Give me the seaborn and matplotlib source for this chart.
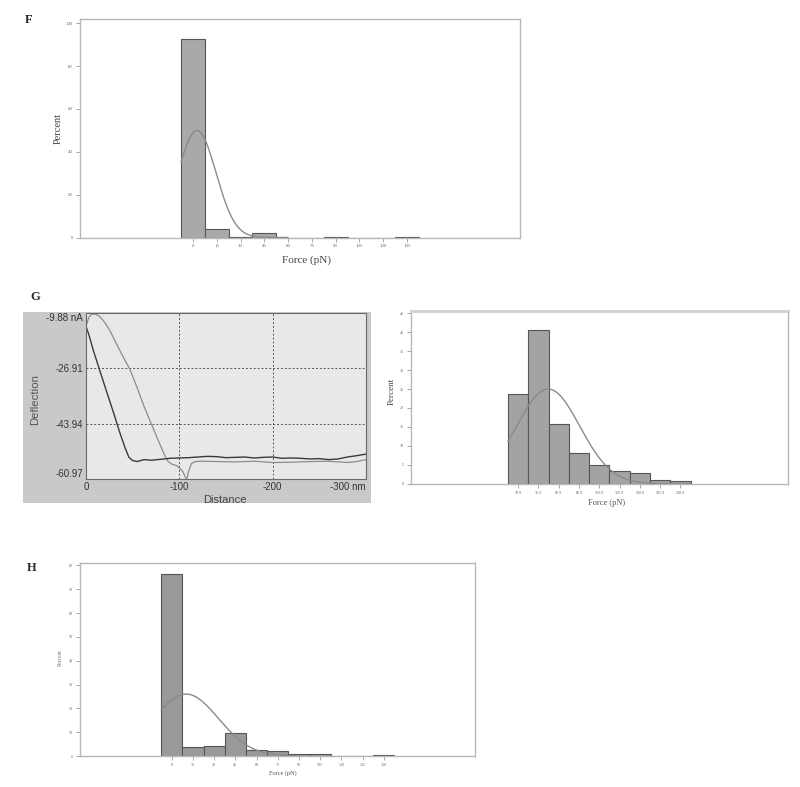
import numpy as np
import pandas as pd
import matplotlib
matplotlib.use("Agg")
import matplotlib.pyplot as plt
import seaborn as sns
from matplotlib.patches import Rectangle

# ---------------- data ----------------
# Panel F histogram
f_bins = ["0", "15", "30", "45", "60", "75", "90", "105", "120", "135"]
f_pct = [92.8, 3.9, 0.3, 1.9, 0.0, 0.0, 0.3, 0.0, 0.0, 0.3]
f_fit_mean, f_fit_sd, f_fit_peak = 2.5, 12.0, 50.0
f_yticks = [0, 20, 40, 60, 80, 100]

# Panel G (left) force curve, distance in nm, deflection in nA
g_yticks = [-9.88, -26.91, -43.94, -60.97]
g_ytick_labels = ["-9.88 nA", "-26.91", "-43.94", "-60.97"]
g_xticks = [0, -100, -200, -300]
g_xtick_labels = ["0", "-100", "-200", "-300 nm"]
dark_x = [0, -3, -8, -15, -22, -30, -36, -42, -46, -50, -55, -62, -70, -80, -90, -100,
          -110, -120, -130, -140, -150, -160, -170, -180, -190, -200, -210, -220, -230,
          -240, -250, -260, -270, -280, -290, -300]
dark_y = [-14.0, -16.5, -21.5, -27.8, -34.0, -41.0, -46.5, -51.5, -54.3, -55.3, -55.6, -55.0,
          -55.2, -54.9, -54.6, -54.5, -54.4, -54.2, -54.0, -54.1, -54.4, -54.3, -54.2, -54.5,
          -54.3, -54.2, -54.6, -54.5, -54.6, -54.8, -54.7, -55.0, -54.8, -54.2, -53.8, -53.3]
light_x = [0, -3, -6, -10, -14, -18, -22, -26, -32, -40, -47, -55, -62, -70, -78, -84,
           -88, -92, -97, -101, -104, -106, -108, -110, -113, -117, -125, -140, -160,
           -180, -200, -220, -240, -260, -280, -290, -300]
light_y = [-14.0, -11.2, -10.3, -10.2, -10.8, -12.0, -13.6, -15.5, -19.0, -23.5, -27.2,
           -33.0, -38.5, -44.0, -49.5, -53.5, -55.6, -56.4, -56.8, -57.8, -58.8, -60.2,
           -61.0, -58.5, -56.2, -55.6, -55.5, -55.6, -55.7, -55.5, -55.9, -55.8, -55.6,
           -55.5, -55.9, -55.6, -55.0]

# Panel G (right) histogram
gr_bins = ["10.9", "35.9", "60.9", "85.9", "110.9", "135.9", "160.9", "185.9", "210.9"]
gr_pct = [23.8, 40.5, 15.7, 8.1, 5.0, 3.25, 2.8, 1.05, 0.6]
gr_fit_mean, gr_fit_sd, gr_fit_peak = 48.0, 39.0, 25.0
gr_yticks = [0, 5, 10, 15, 20, 25, 30, 35, 40, 45]

# Panel H histogram
h_bins = ["0", "15", "30", "45", "60", "75", "90", "105", "120", "135", "150"]
h_pct = [76.2, 3.65, 4.35, 9.7, 2.7, 2.0, 0.7, 0.7, 0.0, 0.0, 0.4]
h_fit_mean, h_fit_sd, h_fit_peak = 10.0, 23.0, 26.0
h_yticks = [0, 10, 20, 30, 40, 50, 60, 70, 80]

# ---------------- figure ----------------
sns.set_style("white")
plt.rcParams["font.family"] = ["Liberation Serif", "DejaVu Serif"]

W, H = 800, 787
fig = plt.figure(figsize=(W / 100, H / 100), dpi=100)


def px_axes(l, t, r, b):
    return fig.add_axes([l / W, 1 - b / H, (r - l) / W, (b - t) / H])


def hist_panel(ax, bins, pct, origin, width, mean, sd, peak, xlim, ylim, yticks,
               tick_fs, bar_color, curve_end=None):
    df = pd.DataFrame({"bin": bins, "pct": pct})
    sns.barplot(data=df, x="bin", y="pct", order=bins, width=1.0, color=bar_color,
                saturation=1, edgecolor="#555555", linewidth=0.8, ax=ax)
    end = len(bins) - 0.5 if curve_end is None else curve_end
    pos = np.linspace(-0.5, end, 400)
    force = origin + pos * width
    dens = peak * np.exp(-0.5 * ((force - mean) / sd) ** 2)
    sns.lineplot(x=pos, y=dens, color="#8a8a8a", linewidth=1.0, ax=ax,
                 sort=False, estimator=None)
    ax.lines[-1].set_zorder(5)
    ax.set_xlim(*xlim)
    ax.set_ylim(*ylim)
    ax.set_yticks(yticks)
    ax.set_yticklabels([str(v) for v in yticks])
    for s in ax.spines.values():
        s.set_color("#b8b8b8")
        s.set_linewidth(1.0)
        s.set_visible(True)
    ax.tick_params(axis="both", direction="out", length=3, width=0.6, color="#999999",
                   labelsize=tick_fs, labelcolor="#666666", pad=2,
                   bottom=True, left=True)
    ax.set_xlabel("")
    ax.set_ylabel("")
    ax.set_facecolor("white")


# ---- Panel F ----
axF = px_axes(80, 19, 520, 237.5)
hist_panel(axF, f_bins, f_pct, 0, 15, f_fit_mean, f_fit_sd, f_fit_peak,
           (-4.75, 13.75), (0, 102.0), f_yticks, 3.5, "#a9a9a9", curve_end=4.0)
fig.text(307 / W, 1 - 260 / H, "Force (pN)", ha="center", va="center", fontsize=8,
         color="#444444")
fig.text(58 / W, 1 - 128 / H, "Percent", ha="center", va="center", rotation=90,
         fontsize=7.5, color="#444444")
fig.text(25 / W, 1 - 20 / H, "F", ha="left", va="center", fontsize=9, fontweight="bold")

# ---- Panel G left (force curve) ----
fig.patches.append(Rectangle((23 / W, 1 - 503 / H), (371 - 23) / W, (503 - 312) / H,
                             transform=fig.transFigure, facecolor="#c9c9c9",
                             edgecolor="none", zorder=-5))
axG = px_axes(86, 313, 366, 479)
axG.set_zorder(3)
axG.set_facecolor("#e8e8e8")
sns.lineplot(x=light_x, y=light_y, color="#8c8c8c", linewidth=0.9, ax=axG,
             sort=False, estimator=None)
sns.lineplot(x=dark_x, y=dark_y, color="#3a3a3a", linewidth=1.0, ax=axG,
             sort=False, estimator=None)
axG.set_xlim(0, -300)
axG.set_ylim(-60.97, -9.88)
axG.set_xticks(g_xticks)
axG.set_xticklabels(g_xtick_labels, fontfamily="Liberation Sans")
axG.set_yticks(g_yticks)
axG.set_yticklabels(g_ytick_labels, fontfamily="Liberation Sans")
for xv in g_xticks[1:3]:
    axG.axvline(xv, color="#555555", linestyle=(0, (2, 2)), linewidth=0.7, zorder=1)
for yv in g_yticks[1:3]:
    axG.axhline(yv, color="#555555", linestyle=(0, (2, 2)), linewidth=0.7, zorder=1)
axG.tick_params(axis="both", length=0, labelsize=7, labelcolor="#333333", pad=2)
ylbls = axG.get_yticklabels()
ylbls[0].set_va("top")
ylbls[-1].set_va("bottom")
xlbls = axG.get_xticklabels()
xlbls[-1].set_ha("right")
for s in axG.spines.values():
    s.set_visible(True)
    s.set_color("#6a6a6a")
    s.set_linewidth(0.8)
axG.set_xlabel("")
axG.set_ylabel("")
fig.text(225 / W, 1 - 500 / H, "Distance", ha="center", va="center", fontsize=8,
         color="#444444", family="Liberation Sans")
fig.text(35 / W, 1 - 400 / H, "Deflection", ha="center", va="center", rotation=90,
         fontsize=8.2, color="#555555", family="Liberation Sans")
fig.text(30 / W, 1 - 297 / H, "G", ha="left", va="center", fontsize=9, fontweight="bold")

# ---- Panel G right (histogram) ----
axGR = px_axes(410.7, 311, 788, 483.7)
hist_panel(axGR, gr_bins, gr_pct, 10.9, 25, gr_fit_mean, gr_fit_sd, gr_fit_peak,
           (-5.29, 13.3), (0, 45.6), gr_yticks, 3.0, "#a3a3a3", curve_end=8.5)
axGR.spines["top"].set_linewidth(2.0)
axGR.spines["top"].set_color("#d0d0d0")
fig.text(607 / W, 1 - 503 / H, "Force (pN)", ha="center", va="center", fontsize=6,
         color="#555555")
fig.text(392 / W, 1 - 391 / H, "Percent", ha="center", va="center", rotation=90,
         fontsize=6.5, color="#444444")

# ---- Panel H ----
axH = px_axes(80, 563, 475, 756)
hist_panel(axH, h_bins, h_pct, 0, 15, h_fit_mean, h_fit_sd, h_fit_peak,
           (-4.33, 14.3), (0, 81.0), h_yticks, 3.0, "#999999", curve_end=6.0)
fig.text(283 / W, 1 - 773 / H, "Force (pN)", ha="center", va="center", fontsize=4.5,
         color="#555555")
fig.text(60 / W, 1 - 658 / H, "Percent", ha="center", va="center", rotation=90,
         fontsize=4, color="#777777")
fig.text(27 / W, 1 - 568 / H, "H", ha="left", va="center", fontsize=9, fontweight="bold")

fig.savefig("out.png", dpi=100, facecolor="white")
